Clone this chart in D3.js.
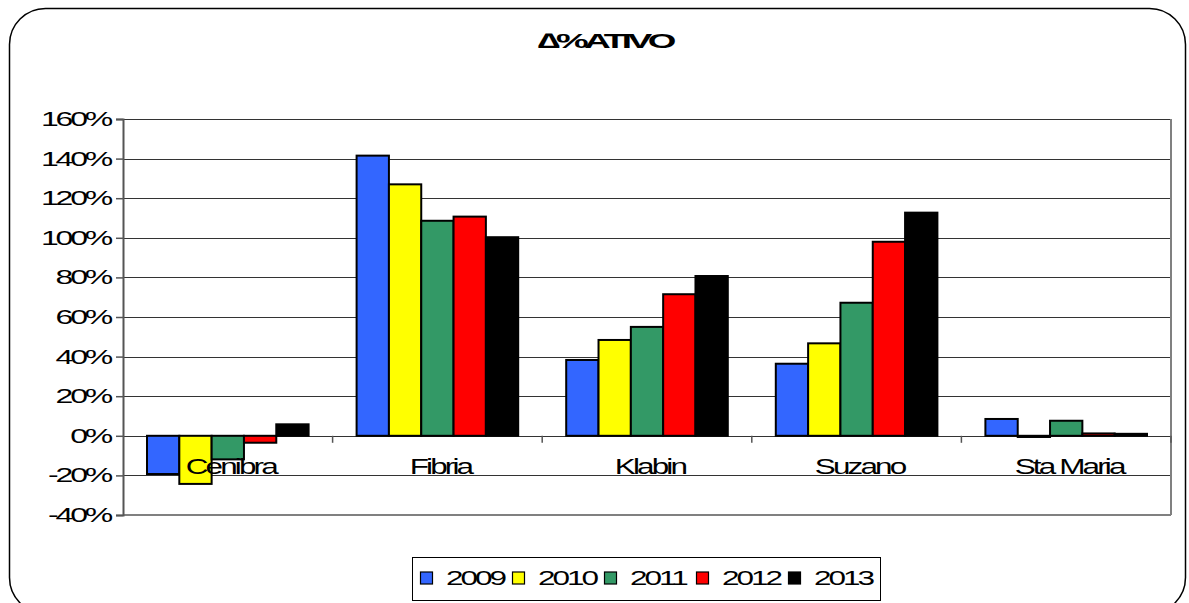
<!DOCTYPE html>
<html>
<head>
<meta charset="utf-8">
<script src="https://cdn.jsdelivr.net/npm/d3@7"></script>
<style>
  body { margin: 0; background: #fff; }
  text { font-family: Arial, "Liberation Sans", sans-serif; fill: #000; }
</style>
</head>
<body>
<svg id="chart" width="1189" height="603"></svg>
<script>
  // chart data
  var companies = ["Cenibra", "Fibria", "Klabin", "Suzano", "Sta Maria"];
  var years = ["2009", "2010", "2011", "2012", "2013"];
  var colors = ["#3366ff", "#ffff00", "#339966", "#ff0000", "#000000"];
  var v2009 = [-0.193, 1.415, 0.383, 0.364, 0.085];
  var v2010 = [-0.243, 1.27, 0.484, 0.467, -0.006];
  var v2011 = [-0.119, 1.086, 0.55, 0.672, 0.076];
  var v2012 = [-0.035, 1.107, 0.715, 0.98, 0.012];
  var v2013 = [0.058, 1.003, 0.807, 1.127, 0.01];
  var tickValues = [-0.4, -0.2, 0, 0.2, 0.4, 0.6, 0.8, 1.0, 1.2, 1.4, 1.6];
  var tickLabels = ["-40%", "-20%", "0%", "20%", "40%", "60%", "80%", "100%", "120%", "140%", "160%"];
  var title = "\u2206%ATIVO";

  function drawChart() {
    var series = [v2009, v2010, v2011, v2012, v2013];
    var svg = d3.select("#chart");
    var left = 123, right = 1171, plotTop = 119, plotBottom = 515;

    // stretch text to a target width so it looks like the wide, tight original
    function stretch(sel, factor) {
      sel.each(function () {
        var w = this.getComputedTextLength();
        d3.select(this).attr("textLength", w * factor).attr("lengthAdjust", "spacingAndGlyphs");
      });
    }

    // outer rounded frame
    svg.append("rect")
      .attr("x", 9.5).attr("y", 8.5)
      .attr("width", 1176).attr("height", 605)
      .attr("rx", 36).attr("ry", 36)
      .attr("fill", "none").attr("stroke", "#000").attr("stroke-width", 1.5);

    var y = d3.scaleLinear().domain([-0.4, 1.6]).range([plotBottom, plotTop]);
    var x0 = d3.scaleBand().domain(companies).range([left, right]);
    var x1 = d3.scaleBand().domain(years).range([24, x0.bandwidth() - 24]);

    // gridlines
    svg.append("g").selectAll("line")
      .data(tickValues)
      .join("line")
        .attr("x1", left).attr("x2", right)
        .attr("y1", d => Math.round(y(d)) + 0.5).attr("y2", d => Math.round(y(d)) + 0.5)
        .attr("stroke", "#333").attr("stroke-width", 1.2);

    // plot border right / bottom
    svg.append("line")
      .attr("x1", right).attr("x2", right).attr("y1", plotTop).attr("y2", plotBottom)
      .attr("stroke", "#808080").attr("stroke-width", 2);
    svg.append("line")
      .attr("x1", left).attr("x2", right).attr("y1", plotBottom).attr("y2", plotBottom)
      .attr("stroke", "#808080").attr("stroke-width", 2);

    // y axis
    var yAxis = svg.append("g")
      .attr("transform", `translate(${left},0)`)
      .call(d3.axisLeft(y).tickValues(tickValues).tickSize(7).tickPadding(6)
        .tickFormat((d, i) => tickLabels[i]));
    yAxis.select(".domain").attr("stroke", "#555").attr("stroke-width", 2);
    yAxis.selectAll(".tick line").attr("stroke", "#555").attr("stroke-width", 1.5);
    yAxis.selectAll(".tick text")
      .attr("font-size", 20).attr("font-family", "Arial, 'Liberation Sans', sans-serif")
      .attr("fill", "#000").attr("letter-spacing", -2);
    stretch(yAxis.selectAll(".tick text"), 1.6);

    // category ticks on zero line
    svg.append("g").selectAll("line")
      .data(companies)
      .join("line")
        .attr("x1", (d, i) => left + (i + 1) * x0.bandwidth())
        .attr("x2", (d, i) => left + (i + 1) * x0.bandwidth())
        .attr("y1", y(0)).attr("y2", y(0) + 7)
        .attr("stroke", "#555").attr("stroke-width", 1.5);

    // bars
    var groups = svg.append("g").selectAll("g")
      .data(companies)
      .join("g")
        .attr("transform", d => `translate(${x0(d)},0)`);

    groups.selectAll("rect")
      .data((c, ci) => years.map((yr, si) => ({ year: yr, si: si, value: series[si][ci] })))
      .join("rect")
        .attr("x", d => x1(d.year))
        .attr("width", x1.bandwidth())
        .attr("y", d => y(Math.max(0, d.value)))
        .attr("height", d => Math.abs(y(d.value) - y(0)))
        .attr("fill", d => colors[d.si])
        .attr("stroke", "#000").attr("stroke-width", 2);

    // category labels
    var cat = svg.append("g").selectAll("text")
      .data(companies)
      .join("text")
        .attr("x", d => x0(d) + x0.bandwidth() / 2 + 3)
        .attr("y", 474)
        .attr("text-anchor", "middle")
        .attr("font-size", 22)
        .attr("letter-spacing", -2)
        .text(d => d);
    stretch(cat, 1.43);

    // title
    var t = svg.append("text")
      .attr("x", 605).attr("y", 48)
      .attr("text-anchor", "middle")
      .attr("font-size", 21).attr("font-weight", "bold")
      .attr("letter-spacing", -2.5)
      .text(title);
    stretch(t, 1.75);

    // legend
    var lg = svg.append("g");
    lg.append("rect")
      .attr("x", 412.5).attr("y", 557.5).attr("width", 468).attr("height", 43)
      .attr("fill", "#fff").attr("stroke", "#000").attr("stroke-width", 1);
    var item = lg.selectAll("g")
      .data(years)
      .join("g")
        .attr("transform", (d, i) => `translate(${420 + i * 92},0)`);
    item.append("rect")
      .attr("x", 0.5).attr("y", 572).attr("width", 12).attr("height", 12)
      .attr("fill", (d, i) => colors[i]).attr("stroke", "#000").attr("stroke-width", 1.2);
    var lt = item.append("text")
      .attr("x", 26).attr("y", 585)
      .attr("font-size", 21)
      .attr("letter-spacing", -2)
      .text(d => d);
    stretch(lt, 1.5);
  }

  drawChart();
</script>
</body>
</html>
